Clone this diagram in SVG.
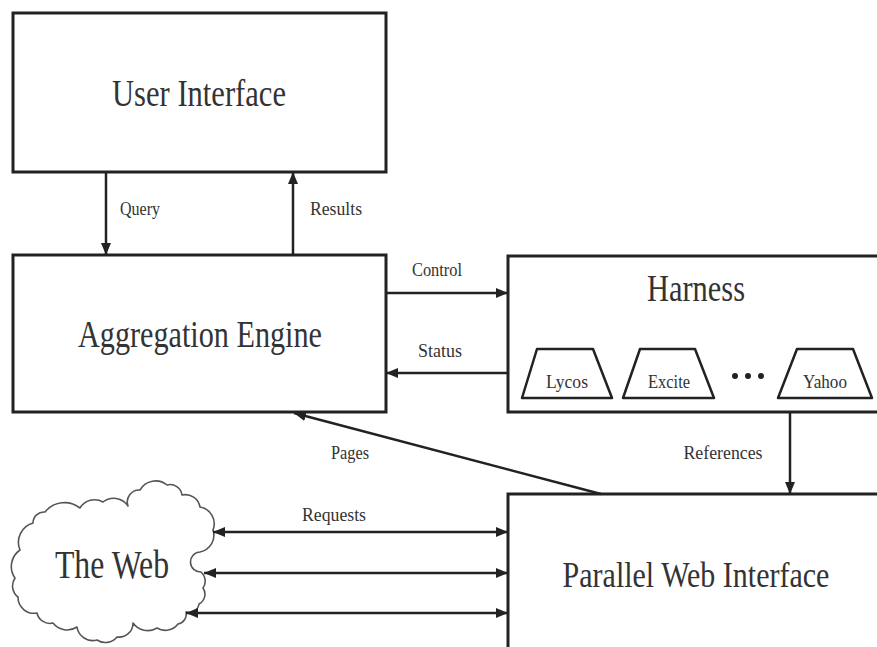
<svg xmlns="http://www.w3.org/2000/svg" width="877" height="647" viewBox="0 0 877 647">
<style>
.box{fill:#fff;stroke:#222;stroke-width:3}
.big{font-family:"Liberation Serif",serif;font-size:38px;fill:#333;text-anchor:middle}
.sm{font-family:"Liberation Serif",serif;font-size:19px;fill:#333;text-anchor:middle}
.ln{stroke:#222;stroke-width:2.5;fill:none}
.trap{fill:#fff;stroke:#222;stroke-width:2.5;stroke-linejoin:round}
</style>
<defs>
<marker id="ah" markerUnits="userSpaceOnUse" markerWidth="14" markerHeight="12" refX="12" refY="5" orient="auto-start-reverse">
<path d="M0,0 L12,5 L0,10 Z" fill="#222"/>
</marker>
</defs>
<rect width="877" height="647" fill="#fff"/>
<g id="user-interface">
<rect class="box" x="13" y="13" width="373" height="159"/>
<text class="big" x="199" y="106" textLength="174" lengthAdjust="spacingAndGlyphs">User Interface</text>
</g>
<g id="aggregation-engine">
<rect class="box" x="13" y="255" width="373" height="157"/>
<text class="big" x="200" y="347" textLength="244" lengthAdjust="spacingAndGlyphs">Aggregation Engine</text>
</g>
<g id="harness">
<rect class="box" x="508" y="256" width="371" height="156"/>
<text class="big" x="696" y="301" textLength="98" lengthAdjust="spacingAndGlyphs">Harness</text>
<g id="lycos">
<polygon class="trap" points="537,349 593,349 612,398 522,398"/>
<text class="sm" x="567" y="388" textLength="42" lengthAdjust="spacingAndGlyphs">Lycos</text>
</g>
<g id="excite">
<polygon class="trap" points="640,349 695,349 714,398 623,398"/>
<text class="sm" x="669" y="388" textLength="42" lengthAdjust="spacingAndGlyphs">Excite</text>
</g>
<g id="dots">
<circle cx="735" cy="376" r="3" fill="#222"/>
<circle cx="748" cy="376" r="3" fill="#222"/>
<circle cx="761" cy="376" r="3" fill="#222"/>
</g>
<g id="yahoo">
<polygon class="trap" points="797,349 853,349 872,398 778,398"/>
<text class="sm" x="825" y="388" textLength="44" lengthAdjust="spacingAndGlyphs">Yahoo</text>
</g>
</g>
<g id="parallel-web-interface">
<rect class="box" x="508" y="494" width="371" height="155"/>
<text class="big" transform="translate(696,587) scale(1,1.22)" x="0" y="0" style="font-size:30px">Parallel Web Interface</text>
</g>
<g id="the-web">
<path fill="#fff" stroke="#555" stroke-width="1.6" stroke-linejoin="round" d="M15,578 A20,20 0 0 1 20,550 A20,20 0 0 1 33,523 A11,11 0 0 1 45,512 A25,25 0 0 1 80,508 A17,17 0 0 1 103,502 A17,17 0 0 1 128,506 A12,12 0 0 1 140,490 A18,18 0 0 1 167,485 A12,12 0 0 1 182,495 A15,15 0 0 1 200,507 A17,17 0 0 1 213,530 A17,17 0 0 1 200,552 A10,10 0 0 0 201,572 A12,12 0 0 1 203,588 A11,11 0 0 1 199,604 A10,10 0 0 1 186,612 A10,10 0 0 1 178,624 A16,16 0 0 1 157,628 A18,18 0 0 1 133,623 A14,14 0 0 1 117,637 A15,15 0 0 1 97,640 A16,16 0 0 1 77,627 A18,18 0 0 1 53,623 A13,13 0 0 1 37,613 A16,16 0 0 1 18,597 A14,14 0 0 1 15,578 Z"/>
<text class="big" x="112" y="578" style="font-size:40px" textLength="114" lengthAdjust="spacingAndGlyphs">The Web</text>
</g>
<g id="connectors">
<line class="ln" x1="106" y1="172" x2="106" y2="255" marker-end="url(#ah)"/>
<text class="sm" x="140" y="215" textLength="40" lengthAdjust="spacingAndGlyphs">Query</text>
<line class="ln" x1="293" y1="255" x2="293" y2="172" marker-end="url(#ah)"/>
<text class="sm" x="336" y="215" textLength="52" lengthAdjust="spacingAndGlyphs">Results</text>
<line class="ln" x1="386" y1="293" x2="508" y2="293" marker-end="url(#ah)"/>
<text class="sm" x="437" y="276" textLength="50" lengthAdjust="spacingAndGlyphs">Control</text>
<line class="ln" x1="508" y1="373" x2="386" y2="373" marker-end="url(#ah)"/>
<text class="sm" x="440" y="357" textLength="44" lengthAdjust="spacingAndGlyphs">Status</text>
<line class="ln" x1="790" y1="412" x2="790" y2="494" marker-end="url(#ah)"/>
<text class="sm" x="723" y="459" textLength="79" lengthAdjust="spacingAndGlyphs">References</text>
<line class="ln" x1="601" y1="494" x2="294" y2="413" marker-end="url(#ah)"/>
<text class="sm" x="350" y="459" textLength="38" lengthAdjust="spacingAndGlyphs">Pages</text>
<line class="ln" x1="213" y1="532" x2="508" y2="532" marker-start="url(#ah)" marker-end="url(#ah)"/>
<text class="sm" x="334" y="521" textLength="64" lengthAdjust="spacingAndGlyphs">Requests</text>
<line class="ln" x1="204" y1="573" x2="508" y2="573" marker-start="url(#ah)" marker-end="url(#ah)"/>
<line class="ln" x1="186" y1="613" x2="508" y2="613" marker-start="url(#ah)" marker-end="url(#ah)"/>
</g>
</svg>
